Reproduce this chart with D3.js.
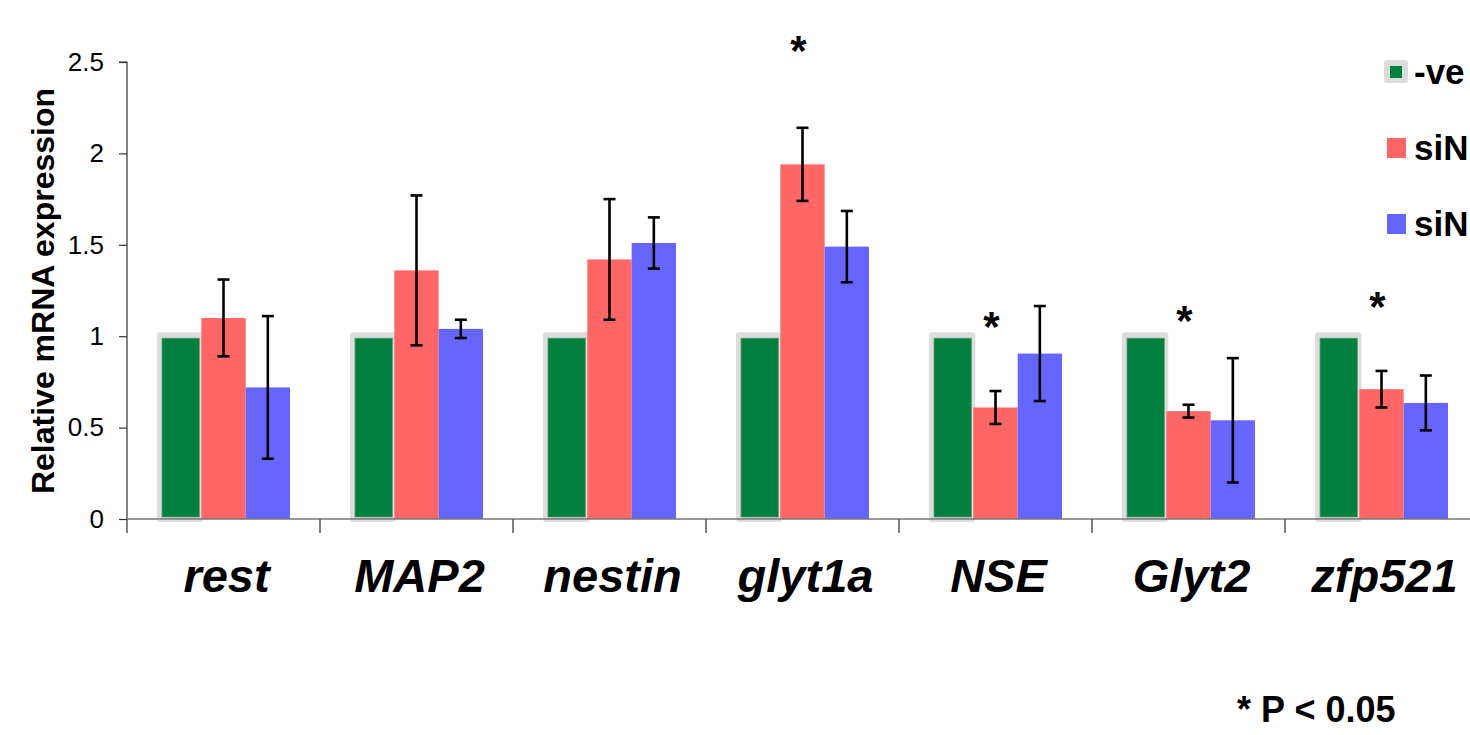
<!DOCTYPE html>
<html><head><meta charset="utf-8">
<script src="https://cdn.jsdelivr.net/npm/d3@7"></script>
<style>body{margin:0;background:#fff;} svg{display:block;font-family:"Liberation Sans",Arial,sans-serif;}</style>
</head><body>
<svg id="chart" width="1470" height="735"></svg>
<script>
const categories = ["rest","MAP2","nestin","glyt1a","NSE","Glyt2","zfp521"];
const seriesNames = ["-ve","siN","siN"];
const negValues = [1,1,1,1,1,1,1];
const siN1Values = [1.10,1.36,1.42,1.94,0.61,0.59,0.71];
const siN1Errors = [0.21,0.41,0.33,0.20,0.09,0.035,0.10];
const siN2Values = [0.72,1.04,1.51,1.49,0.905,0.54,0.635];
const siN2Errors = [0.39,0.05,0.14,0.195,0.26,0.34,0.15];
const starCategories = ["glyt1a","NSE","Glyt2","zfp521"];
const starLevels = [2.61,1.10,1.13,1.21];
const yTicks = [0,0.5,1,1.5,2,2.5];
const colors = ["#007f3f","#ff6666","#6666ff"];

const svg = d3.select("#chart");
const x0 = 127, y0 = 519;
const y = d3.scaleLinear().domain([0,2.5]).range([y0,62]);
const xCat = d3.scaleBand().domain(categories).range([x0, x0+7*193]).padding(0);
const xSub = d3.scaleBand().domain([0,1,2]).range([30,163]).padding(0);
const bw = xSub.bandwidth();

const data = categories.map((c,i)=>({cat:c, vals:[
  {s:0,v:negValues[i],e:null},
  {s:1,v:siN1Values[i],e:siN1Errors[i]},
  {s:2,v:siN2Values[i],e:siN2Errors[i]}]}));

// y axis
const yAxis = d3.axisLeft(y).tickValues(yTicks).tickSize(8).tickFormat(d3.format("~g"));
const gy = svg.append("g").attr("transform",`translate(${x0},0)`).call(yAxis);
gy.select(".domain").attr("d",`M-8,${y(2.5)}H0V${y0+14}`).attr("stroke","#333").attr("stroke-width",1.2);
gy.selectAll(".tick line").attr("stroke","#333").attr("stroke-width",1.2);
gy.selectAll(".tick text").attr("x",-23).attr("font-size",26).attr("fill","#000").attr("font-family","Liberation Sans, Arial, sans-serif");

// bars
const groups = svg.append("g").selectAll("g").data(data).join("g")
  .attr("transform",d=>`translate(${xCat(d.cat)},0)`);
groups.each(function(d){
  const g = d3.select(this);
  d.vals.forEach(b=>{
    const bx = xSub(b.s);
    if(b.s===0){
      g.append("rect").attr("x",bx).attr("y",y(b.v)-4).attr("width",bw+2).attr("height",y0-y(b.v)+7)
        .attr("fill","#dddddd").attr("rx",3);
      g.append("rect").attr("x",bx+5).attr("y",y(b.v)+2).attr("width",bw-7).attr("height",y0-y(b.v)-4)
        .attr("fill",colors[0]).attr("stroke","#5a9a70").attr("stroke-width",0.8);
    } else {
      g.append("rect").attr("x",bx).attr("y",y(b.v)).attr("width",bw).attr("height",y0-y(b.v))
        .attr("fill",colors[b.s]);
    }
  });
  d.vals.filter(b=>b.e!=null).forEach(b=>{
    const cx = xSub(b.s)+bw/2;
    const e = g.append("g").attr("stroke","#000").attr("stroke-width",2.6);
    e.append("line").attr("x1",cx).attr("x2",cx).attr("y1",y(b.v+b.e)).attr("y2",y(b.v-b.e));
    e.append("line").attr("x1",cx-6).attr("x2",cx+6).attr("y1",y(b.v+b.e)).attr("y2",y(b.v+b.e));
    e.append("line").attr("x1",cx-6).attr("x2",cx+6).attr("y1",y(b.v-b.e)).attr("y2",y(b.v-b.e));
  });
});

// x axis
const xAxisG = svg.append("g");
xAxisG.append("line").attr("x1",x0).attr("x2",1470).attr("y1",y0).attr("y2",y0).attr("stroke","#777").attr("stroke-width",1.5);
xAxisG.selectAll("line.t").data(categories.slice(1)).join("line").attr("class","t")
  .attr("x1",d=>xCat(d)).attr("x2",d=>xCat(d)).attr("y1",y0).attr("y2",y0+14)
  .attr("stroke","#555").attr("stroke-width",1.5);
xAxisG.selectAll("text").data(categories).join("text")
  .attr("x",d=>xCat(d)+xCat.bandwidth()/2+3).attr("y",592)
  .attr("text-anchor","middle").attr("font-size",47).attr("font-weight","bold").attr("font-style","italic")
  .text(d=>d);

// y label
svg.append("text").attr("transform","translate(54,291) rotate(-90)").attr("text-anchor","middle")
  .attr("font-size",32).attr("font-weight","bold").text("Relative mRNA expression");

// stars
svg.append("g").selectAll("text").data(starCategories).join("text")
  .attr("x",(d)=>xCat(d)+xSub(1)+bw/2-4)
  .attr("y",(d,i)=>y(starLevels[i])+23)
  .attr("text-anchor","middle").attr("font-size",42).attr("font-weight","bold").text("*");

// legend
const leg = svg.append("g");
const legY = [72,148,224];
seriesNames.forEach((n,i)=>{
  if(i===0){
    leg.append("rect").attr("x",1384).attr("y",legY[i]-12).attr("width",24).attr("height",23).attr("fill","#dddddd").attr("rx",3);
    leg.append("rect").attr("x",1390).attr("y",legY[i]-6).attr("width",12).attr("height",12).attr("fill",colors[0]);
  } else {
    leg.append("rect").attr("x",1387).attr("y",legY[i]-10).attr("width",19).attr("height",20).attr("fill",colors[i]);
  }
  leg.append("text").attr("x",1414).attr("y",legY[i]+12).attr("font-size",35).attr("font-weight","bold").text(n);
});

svg.append("text").attr("x",1237).attr("y",722).attr("font-size",36).attr("font-weight","bold").text("* P < 0.05");
</script>
</body></html>
